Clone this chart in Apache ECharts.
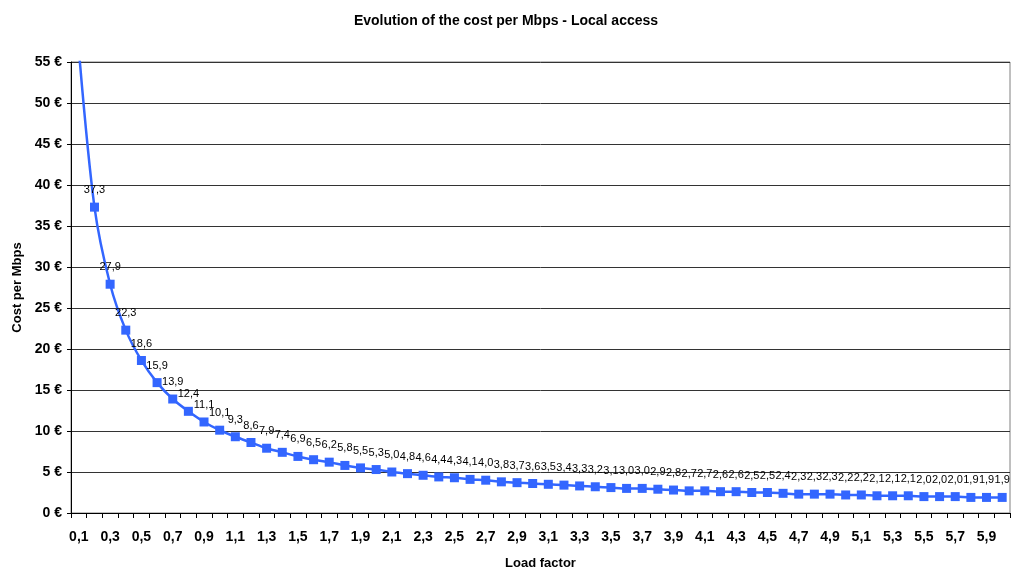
<!DOCTYPE html>
<html>
<head>
<meta charset="utf-8">
<script src="https://cdn.jsdelivr.net/npm/echarts@6/dist/echarts.min.js"></script>
<style>
  html, body { margin: 0; padding: 0; background: #fff; }
  #main { width: 1012px; height: 571px; }
</style>
</head>
<body>
<div id="main"></div>
<script>
// load factor categories (0,1 .. 6,0)
var loadFactors = ['0,1','0,2','0,3','0,4','0,5','0,6','0,7','0,8','0,9','1,0',
  '1,1','1,2','1,3','1,4','1,5','1,6','1,7','1,8','1,9','2,0',
  '2,1','2,2','2,3','2,4','2,5','2,6','2,7','2,8','2,9','3,0',
  '3,1','3,2','3,3','3,4','3,5','3,6','3,7','3,8','3,9','4,0',
  '4,1','4,2','4,3','4,4','4,5','4,6','4,7','4,8','4,9','5,0',
  '5,1','5,2','5,3','5,4','5,5','5,6','5,7','5,8','5,9','6,0'];

// cost per Mbps (first point sits just above the axis max and is clipped)
var costPerMbps = [56.5, 37.3, 27.9, 22.3, 18.6, 15.9, 13.9, 12.4, 11.1, 10.1,
  9.3, 8.6, 7.9, 7.4, 6.9, 6.5, 6.2, 5.8, 5.5, 5.3,
  5.0, 4.8, 4.6, 4.4, 4.3, 4.1, 4.0, 3.8, 3.7, 3.6,
  3.5, 3.4, 3.3, 3.2, 3.1, 3.0, 3.0, 2.9, 2.8, 2.7,
  2.7, 2.6, 2.6, 2.5, 2.5, 2.4, 2.3, 2.3, 2.3, 2.2,
  2.2, 2.1, 2.1, 2.1, 2.0, 2.0, 2.0, 1.9, 1.9, 1.9];

var fontFam = '"Liberation Sans", Arial, sans-serif';

var chart = echarts.init(document.getElementById('main'));

var seriesData = costPerMbps.map(function (v, i) {
  if (i === 0) return { value: v, symbolSize: 0, label: { show: false } };
  return v;
});

var option = {
  animation: false,
  title: {
    text: 'Evolution of the cost per Mbps - Local access',
    left: 'center',
    top: 9,
    textStyle: { fontFamily: fontFam, fontSize: 14, fontWeight: 'bold', color: '#000' }
  },
  grid: {
    left: 71, right: 2, top: 62, bottom: 58,
    containLabel: false,
    outerBoundsMode: 'none',
    show: true, borderColor: '#808080', borderWidth: 1
  },
  xAxis: {
    type: 'category',
    data: loadFactors,
    boundaryGap: true,
    name: 'Load factor',
    nameLocation: 'middle',
    nameGap: 44,
    nameTextStyle: { fontFamily: fontFam, fontSize: 13, fontWeight: 'bold', color: '#000' },
    axisLine: { lineStyle: { color: '#000', width: 1 } },
    axisTick: { show: true, interval: 0, length: 5, lineStyle: { color: '#000' } },
    axisLabel: {
      interval: 1, margin: 17,
      fontFamily: fontFam, fontSize: 14, fontWeight: 'bold', color: '#000'
    },
    splitLine: { show: false }
  },
  yAxis: {
    type: 'value',
    min: 0, max: 55, interval: 5,
    name: 'Cost per Mbps',
    nameLocation: 'middle',
    nameGap: 46,
    nameRotate: 90,
    nameTextStyle: { fontFamily: fontFam, fontSize: 13, fontWeight: 'bold', color: '#000' },
    axisLine: { show: true, lineStyle: { color: '#000', width: 1 } },
    axisTick: { show: true, length: 4, lineStyle: { color: '#000' } },
    axisLabel: {
      margin: 9,
      fontFamily: fontFam, fontSize: 14, fontWeight: 'bold', color: '#000',
      formatter: function (v) { return v + ' €'; }
    },
    splitLine: { show: true, lineStyle: { color: '#333', width: 1 } }
  },
  series: [{
    type: 'line',
    data: seriesData,
    smooth: 0.3,
    clip: true,
    symbol: 'rect',
    symbolSize: 9,
    showAllSymbol: true,
    lineStyle: { color: '#3366FF', width: 2.5 },
    itemStyle: { color: '#3366FF' },
    label: {
      show: true,
      position: 'top',
      distance: 7,
      fontFamily: fontFam,
      fontSize: 11,
      color: '#000',
      formatter: function (p) { return p.value.toFixed(1).replace('.', ','); }
    },
    labelLayout: { hideOverlap: false }
  }]
};

chart.setOption(option);
</script>
</body>
</html>
